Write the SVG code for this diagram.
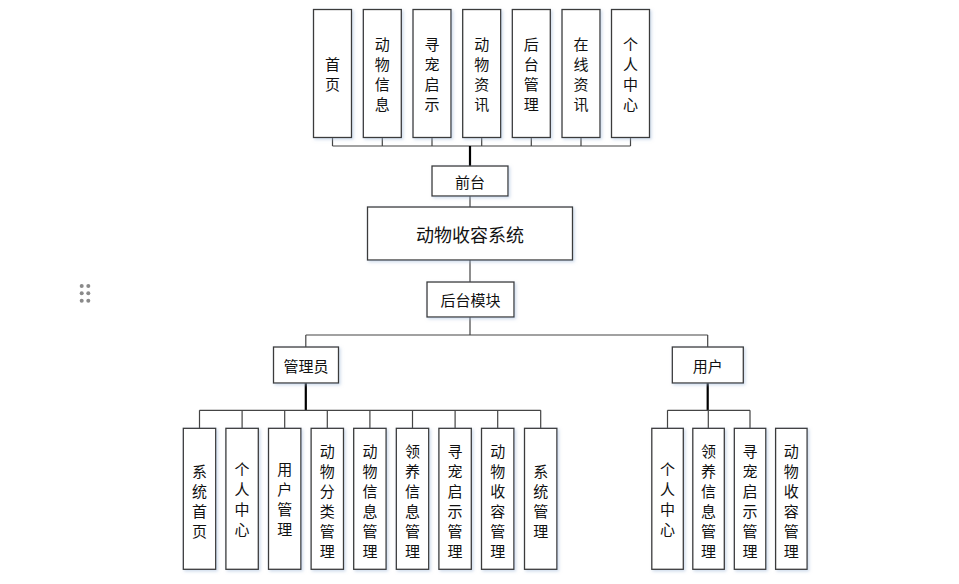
<svg xmlns="http://www.w3.org/2000/svg" width="959" height="584" viewBox="0 0 959 584">
<defs>
<filter id="sh" x="-20%" y="-20%" width="140%" height="140%">
<feDropShadow dx="1.5" dy="1.5" stdDeviation="1.5" flood-color="#9fb8d8" flood-opacity="0.5"/>
</filter>
</defs>
<style>
.box{fill:#fff;stroke:#3a3a3a;stroke-width:1.3;filter:url(#sh)}
.t{font-family:"Noto Sans CJK SC","Liberation Sans",sans-serif;font-size:15px;fill:#111;text-anchor:middle;dominant-baseline:central}
.big{font-size:18px}
.thin{stroke:#444;stroke-width:1.2;fill:none}
.thick{stroke:#000;stroke-width:2.2;fill:none}
.dot{fill:#8a8a8a}
</style>
<rect width="959" height="584" fill="#fff"/>
<g id="connectors">
<path class="thin" d="M332.5 137V146M382.3 137V146M432 137V146M481.7 137V146M531.3 137V146M581 137V146M630.5 137V146M332.5 146H630.5"/>
<path class="thick" d="M470 146V166"/>
<path class="thin" d="M470 196V207M470 260V282M470 317V335M305.8 335H707.7M305.8 335V347M707.7 335V347"/>
<path class="thick" d="M305.8 383V410.3M707.7 383V410.3"/>
<path class="thin" d="M199.5 410.3H540.7M199.5 410.3V428.3M242.1 410.3V428.3M284.7 410.3V428.3M327.3 410.3V428.3M369.9 410.3V428.3M412.5 410.3V428.3M455.1 410.3V428.3M497.7 410.3V428.3M540.7 410.3V428.3"/>
<path class="thin" d="M667.5 410.3H750M667.5 410.3V428.3M708.3 410.3V428.3M750 410.3V428.3"/>
</g>
<g id="dots">
<circle class="dot" cx="81.7" cy="286" r="2"/><circle class="dot" cx="88.3" cy="286" r="2"/>
<circle class="dot" cx="81.7" cy="293.3" r="2"/><circle class="dot" cx="88.3" cy="293.3" r="2"/>
<circle class="dot" cx="81.7" cy="300.7" r="2"/><circle class="dot" cx="88.3" cy="300.7" r="2"/>
</g>
<g id="n-home"><rect class="box" x="313.5" y="9.5" width="38" height="128"/><text class="t"><tspan x="332.5" y="63">首</tspan><tspan x="332.5" y="83">页</tspan></text></g>
<g id="n-animalinfo"><rect class="box" x="363.3" y="9.5" width="38" height="128"/><text class="t"><tspan x="382.3" y="43">动</tspan><tspan x="382.3" y="63">物</tspan><tspan x="382.3" y="83">信</tspan><tspan x="382.3" y="103">息</tspan></text></g>
<g id="n-lostpet"><rect class="box" x="413" y="9.5" width="38" height="128"/><text class="t"><tspan x="432" y="43">寻</tspan><tspan x="432" y="63">宠</tspan><tspan x="432" y="83">启</tspan><tspan x="432" y="103">示</tspan></text></g>
<g id="n-animalnews"><rect class="box" x="462.7" y="9.5" width="38" height="128"/><text class="t"><tspan x="481.7" y="43">动</tspan><tspan x="481.7" y="63">物</tspan><tspan x="481.7" y="83">资</tspan><tspan x="481.7" y="103">讯</tspan></text></g>
<g id="n-backend"><rect class="box" x="512.3" y="9.5" width="38" height="128"/><text class="t"><tspan x="531.3" y="43">后</tspan><tspan x="531.3" y="63">台</tspan><tspan x="531.3" y="83">管</tspan><tspan x="531.3" y="103">理</tspan></text></g>
<g id="n-onlinenews"><rect class="box" x="562" y="9.5" width="38" height="128"/><text class="t"><tspan x="581" y="43">在</tspan><tspan x="581" y="63">线</tspan><tspan x="581" y="83">资</tspan><tspan x="581" y="103">讯</tspan></text></g>
<g id="n-profile"><rect class="box" x="611.5" y="9.5" width="38" height="128"/><text class="t"><tspan x="630.5" y="43">个</tspan><tspan x="630.5" y="63">人</tspan><tspan x="630.5" y="83">中</tspan><tspan x="630.5" y="103">心</tspan></text></g>
<g id="n-front"><rect class="box" x="432" y="166" width="76" height="30"/><text class="t" x="470" y="181">前台</text></g>
<g id="n-system"><rect class="box" x="367.5" y="207" width="205" height="53"/><text class="t big" x="470" y="233.5">动物收容系统</text></g>
<g id="n-backmod"><rect class="box" x="427" y="282" width="87" height="35"/><text class="t" x="470.5" y="299.5">后台模块</text></g>
<g id="n-admin"><rect class="box" x="273.5" y="347" width="65" height="36"/><text class="t" x="306" y="365">管理员</text></g>
<g id="n-user"><rect class="box" x="672.3" y="347" width="71" height="36"/><text class="t" x="707.8" y="365">用户</text></g>
<g id="a1"><rect class="box" x="183.3" y="428.3" width="32.4" height="141"/><text class="t"><tspan x="199.5" y="470">系</tspan><tspan x="199.5" y="490">统</tspan><tspan x="199.5" y="510">首</tspan><tspan x="199.5" y="530">页</tspan></text></g>
<g id="a2"><rect class="box" x="225.9" y="428.3" width="32.4" height="141"/><text class="t"><tspan x="242.1" y="468">个</tspan><tspan x="242.1" y="488">人</tspan><tspan x="242.1" y="508">中</tspan><tspan x="242.1" y="528">心</tspan></text></g>
<g id="a3"><rect class="box" x="268.5" y="428.3" width="32.4" height="141"/><text class="t"><tspan x="284.7" y="468">用</tspan><tspan x="284.7" y="488">户</tspan><tspan x="284.7" y="508">管</tspan><tspan x="284.7" y="528">理</tspan></text></g>
<g id="a4"><rect class="box" x="311.1" y="428.3" width="32.4" height="141"/><text class="t"><tspan x="327.3" y="450">动</tspan><tspan x="327.3" y="470">物</tspan><tspan x="327.3" y="490">分</tspan><tspan x="327.3" y="510">类</tspan><tspan x="327.3" y="530">管</tspan><tspan x="327.3" y="550">理</tspan></text></g>
<g id="a5"><rect class="box" x="353.7" y="428.3" width="32.4" height="141"/><text class="t"><tspan x="369.9" y="450">动</tspan><tspan x="369.9" y="470">物</tspan><tspan x="369.9" y="490">信</tspan><tspan x="369.9" y="510">息</tspan><tspan x="369.9" y="530">管</tspan><tspan x="369.9" y="550">理</tspan></text></g>
<g id="a6"><rect class="box" x="396.3" y="428.3" width="32.4" height="141"/><text class="t"><tspan x="412.5" y="450">领</tspan><tspan x="412.5" y="470">养</tspan><tspan x="412.5" y="490">信</tspan><tspan x="412.5" y="510">息</tspan><tspan x="412.5" y="530">管</tspan><tspan x="412.5" y="550">理</tspan></text></g>
<g id="a7"><rect class="box" x="438.9" y="428.3" width="32.4" height="141"/><text class="t"><tspan x="455.1" y="450">寻</tspan><tspan x="455.1" y="470">宠</tspan><tspan x="455.1" y="490">启</tspan><tspan x="455.1" y="510">示</tspan><tspan x="455.1" y="530">管</tspan><tspan x="455.1" y="550">理</tspan></text></g>
<g id="a8"><rect class="box" x="481.5" y="428.3" width="32.4" height="141"/><text class="t"><tspan x="497.7" y="450">动</tspan><tspan x="497.7" y="470">物</tspan><tspan x="497.7" y="490">收</tspan><tspan x="497.7" y="510">容</tspan><tspan x="497.7" y="530">管</tspan><tspan x="497.7" y="550">理</tspan></text></g>
<g id="a9"><rect class="box" x="524.5" y="428.3" width="32.4" height="141"/><text class="t"><tspan x="540.7" y="470">系</tspan><tspan x="540.7" y="490">统</tspan><tspan x="540.7" y="510">管</tspan><tspan x="540.7" y="530">理</tspan></text></g>
<g id="u1"><rect class="box" x="651.8" y="428.3" width="31.5" height="141"/><text class="t"><tspan x="667.5" y="468">个</tspan><tspan x="667.5" y="488">人</tspan><tspan x="667.5" y="508">中</tspan><tspan x="667.5" y="528">心</tspan></text></g>
<g id="u2"><rect class="box" x="692.8" y="428.3" width="31.5" height="141"/><text class="t"><tspan x="708.5" y="450">领</tspan><tspan x="708.5" y="470">养</tspan><tspan x="708.5" y="490">信</tspan><tspan x="708.5" y="510">息</tspan><tspan x="708.5" y="530">管</tspan><tspan x="708.5" y="550">理</tspan></text></g>
<g id="u3"><rect class="box" x="734.3" y="428.3" width="31.5" height="141"/><text class="t"><tspan x="750" y="450">寻</tspan><tspan x="750" y="470">宠</tspan><tspan x="750" y="490">启</tspan><tspan x="750" y="510">示</tspan><tspan x="750" y="530">管</tspan><tspan x="750" y="550">理</tspan></text></g>
<g id="u4"><rect class="box" x="775.6" y="428.3" width="31.5" height="141"/><text class="t"><tspan x="791.3" y="450">动</tspan><tspan x="791.3" y="470">物</tspan><tspan x="791.3" y="490">收</tspan><tspan x="791.3" y="510">容</tspan><tspan x="791.3" y="530">管</tspan><tspan x="791.3" y="550">理</tspan></text></g>
</svg>
